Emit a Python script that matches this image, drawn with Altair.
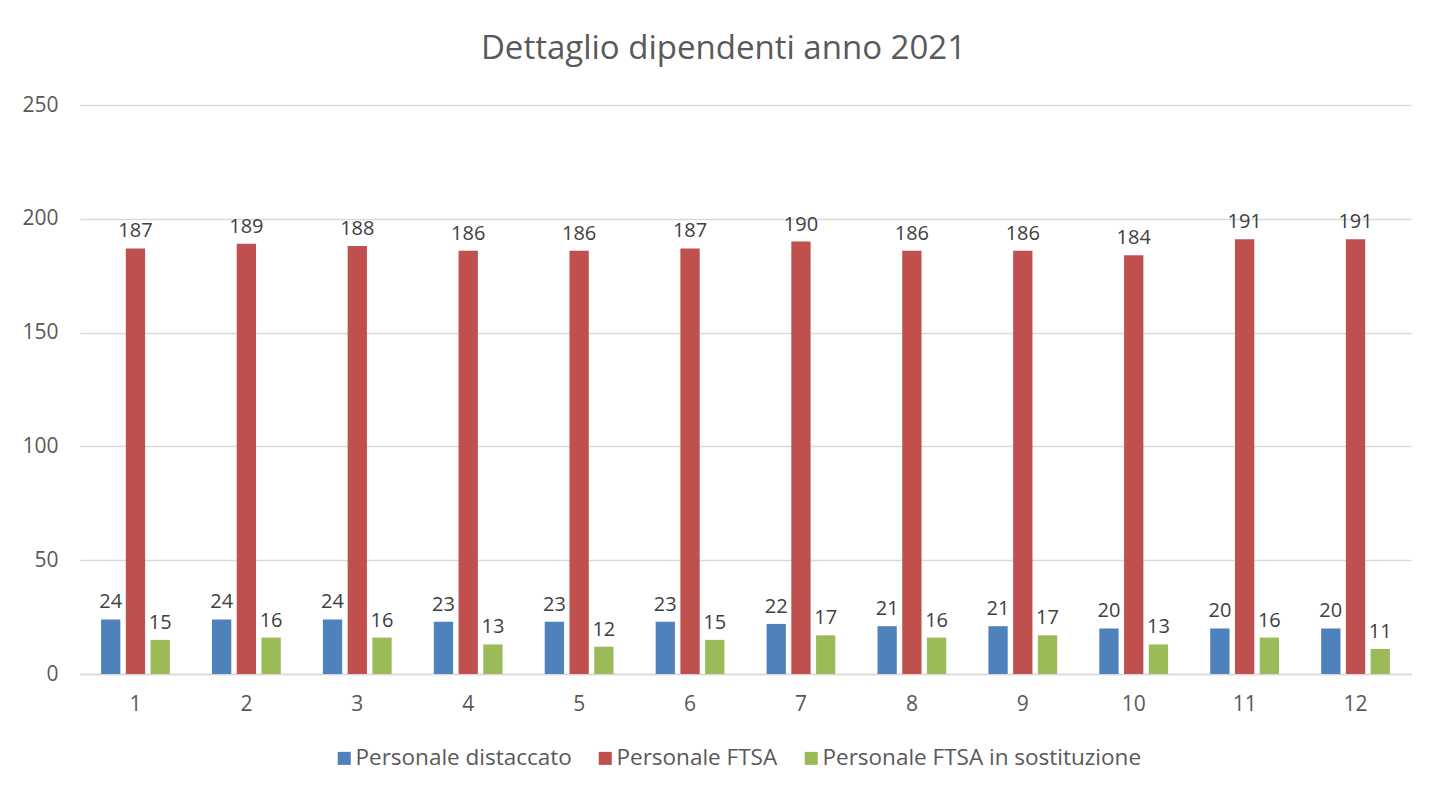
import altair as alt
import pandas as pd

months = [str(i) for i in range(1, 13)]
series_names = ["Personale distaccato", "Personale FTSA", "Personale FTSA in sostituzione"]
distaccato = [24, 24, 24, 23, 23, 23, 22, 21, 21, 20, 20, 20]
ftsa = [187, 189, 188, 186, 186, 187, 190, 186, 186, 184, 191, 191]
sostituzione = [15, 16, 16, 13, 12, 15, 17, 16, 17, 13, 16, 11]
colors = ["#4F81BD", "#C0504D", "#9BBB59"]

rows = []
for vals, name in zip([distaccato, ftsa, sostituzione], series_names):
    for m, v in zip(months, vals):
        rows.append({"mese": m, "serie": name, "valore": v})
df = pd.DataFrame(rows)

FONT = "Open Sans"
W, H = 1331, 569

x = alt.X("mese:N", sort=months, title=None,
          scale=alt.Scale(paddingInner=0.38, paddingOuter=0.19),
          axis=alt.Axis(labelAngle=0, labelFontSize=21, labelColor="#595959", labelFont=FONT,
                        domainColor="#D9D9D9", domainWidth=1.5, ticks=False, labelPadding=19,
                        grid=False))
xo = alt.XOffset("serie:N", sort=series_names,
                 scale=alt.Scale(paddingInner=0.22, paddingOuter=0.0))
y = alt.Y("valore:Q", title=None,
          scale=alt.Scale(domain=[0, 250]),
          axis=alt.Axis(values=[0, 50, 100, 150, 200, 250], labelFontSize=21, labelColor="#595959",
                        labelFont=FONT, domain=False, ticks=False, labelPadding=22,
                        gridColor="#D9D9D9", gridWidth=1.5))

bars = alt.Chart(df).mark_bar().encode(
    x=x, xOffset=xo, y=y,
    color=alt.Color("serie:N", sort=series_names,
                    scale=alt.Scale(domain=series_names, range=colors),
                    legend=alt.Legend(orient="none", direction="horizontal", title=None,
                                      legendX=253, legendY=642,
                                      symbolType="square", symbolSize=170, symbolStrokeWidth=0,
                                      labelFontSize=22.5, labelFont=FONT, labelColor="#595959",
                                      labelLimit=0,
                                      columnPadding=22, symbolOffset=0, labelOffset=0)),
)

labels = alt.Chart(df).mark_text(baseline="alphabetic", dy=-11, fontSize=20, font=FONT,
                                 color="#404040").encode(
    x=x, xOffset=xo, y=y, text="valore:Q"
)

chart = alt.layer(bars, labels).properties(
    width=W, height=H,
    title=alt.TitleParams("Dettaglio dipendenti anno 2021", fontSize=33, font=FONT,
                          fontWeight="normal", color="#595959", anchor="middle", offset=28,
                          dx=-22),
    autosize=alt.AutoSizeParams(type="none"),
    padding={"left": 72, "top": 97, "right": 20, "bottom": 110},
).configure_view(stroke=None)

chart.save("out.html", embed_options={"renderer": "svg", "actions": False})
